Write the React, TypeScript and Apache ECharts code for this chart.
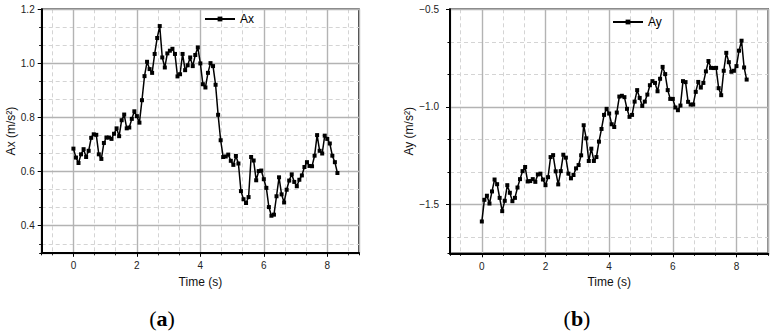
import React, { useEffect, useRef } from "react";
import * as echarts from "echarts";

const time = [
  0, 0.08, 0.16, 0.24, 0.32, 0.4, 0.48, 0.56, 0.64, 0.72,
  0.8, 0.88, 0.96, 1.04, 1.12, 1.2, 1.28, 1.36, 1.44, 1.52,
  1.6, 1.68, 1.76, 1.84, 1.92, 2, 2.08, 2.16, 2.24, 2.32,
  2.4, 2.48, 2.56, 2.64, 2.72, 2.8, 2.88, 2.96, 3.04, 3.12,
  3.2, 3.28, 3.36, 3.44, 3.52, 3.6, 3.68, 3.76, 3.84, 3.92,
  4, 4.08, 4.16, 4.24, 4.32, 4.4, 4.48, 4.56, 4.64, 4.72,
  4.8, 4.88, 4.96, 5.04, 5.12, 5.2, 5.28, 5.36, 5.44, 5.52,
  5.6, 5.68, 5.76, 5.84, 5.92, 6, 6.08, 6.16, 6.24, 6.32,
  6.4, 6.48, 6.56, 6.64, 6.72, 6.8, 6.88, 6.96, 7.04, 7.12,
  7.2, 7.28, 7.36, 7.44, 7.52, 7.6, 7.68, 7.76, 7.84, 7.92,
  8, 8.08, 8.16, 8.24, 8.32,
];

const ax = [
  0.685, 0.652, 0.632, 0.664, 0.683, 0.654, 0.677, 0.725, 0.738, 0.736,
  0.664, 0.647, 0.706, 0.726, 0.726, 0.721, 0.74, 0.76, 0.731, 0.79,
  0.811, 0.76, 0.763, 0.795, 0.823, 0.805, 0.781, 0.864, 0.953, 1.006,
  0.979, 0.965, 1.035, 1.094, 1.138, 1.022, 0.985, 1.037, 1.047, 1.054,
  1.035, 0.952, 0.96, 1.035, 0.975, 0.993, 1.022, 0.99, 1.031, 1.059,
  1.0, 0.923, 0.911, 0.965, 1.001, 0.99, 0.921, 0.81, 0.716, 0.654,
  0.656, 0.663, 0.64, 0.625, 0.658, 0.63, 0.528, 0.498, 0.484, 0.506,
  0.654, 0.641, 0.568, 0.602, 0.604, 0.572, 0.54, 0.469, 0.437, 0.441,
  0.509, 0.579, 0.516, 0.486, 0.533, 0.567, 0.59, 0.562, 0.546, 0.57,
  0.586, 0.617, 0.635, 0.621, 0.62, 0.659, 0.735, 0.677, 0.667, 0.733,
  0.721, 0.704, 0.659, 0.635, 0.595,
];

const ay = [
  -1.587, -1.476, -1.455, -1.495, -1.433, -1.372, -1.396, -1.466, -1.534, -1.481,
  -1.401, -1.44, -1.483, -1.466, -1.413, -1.37, -1.329, -1.308, -1.382, -1.38,
  -1.37, -1.384, -1.346, -1.342, -1.372, -1.401, -1.36, -1.257, -1.247, -1.33,
  -1.397, -1.329, -1.245, -1.26, -1.342, -1.366, -1.349, -1.315, -1.298, -1.248,
  -1.094, -1.161, -1.277, -1.214, -1.277, -1.257, -1.178, -1.113, -1.041, -1.01,
  -1.034, -1.089, -1.103, -1.029, -0.947, -0.943, -0.95, -1.01, -1.051, -1.041,
  -0.973, -0.914, -0.954, -0.995, -0.973, -0.937, -0.889, -0.868, -0.877, -0.92,
  -0.856, -0.795, -0.832, -0.914, -0.959, -0.959, -1.003, -1.017, -0.993, -0.868,
  -0.873, -0.974, -0.988, -0.988, -0.923, -0.872, -0.901, -0.877, -0.818, -0.765,
  -0.8, -0.801, -0.8, -0.904, -0.94, -0.815, -0.723, -0.771, -0.82, -0.815,
  -0.791, -0.712, -0.661, -0.798, -0.86,
];

const xTicks = [0, 2, 4, 6, 8];
const axTicks = [0.4, 0.6, 0.8, 1.0, 1.2];
const ayTicks = [-1.5, -1.0, -0.5];

const FONT = "Liberation Sans";
const MAJOR = { color: "#b3b3b3", width: 1.4, type: "solid" as const };
const MINOR = { color: "#d4d4d4", width: 1, type: [4, 3] as any };

function primaryX(gridIndex: number, nameGap: number) {
  return {
    type: "value",
    gridIndex,
    position: "bottom",
    min: -1,
    max: 9,
    splitNumber: 5,
    z: 3,
    name: "Time (s)",
    nameLocation: "middle",
    nameGap,
    nameTextStyle: { fontFamily: FONT, fontSize: 12, color: "#111" },
    axisLine: { show: true, onZero: false, lineStyle: { color: "#000", width: 2 } },
    axisTick: { show: true, inside: false, length: 4, lineStyle: { color: "#000", width: 1 } },
    axisLabel: {
      show: true,
      margin: 8,
      fontFamily: FONT,
      fontSize: 10,
      color: "#222",
      showMinLabel: false,
      showMaxLabel: false,
      formatter: (v: number) => (xTicks.includes(v) ? String(v) : ""),
    },
    splitLine: { show: true, lineStyle: MAJOR },
  };
}

function minorAxis(gridIndex: number, pos: string, min: number, max: number, splitNumber: number) {
  return {
    type: "value",
    gridIndex,
    position: pos,
    min,
    max,
    splitNumber,
    z: 1,
    axisLine: { show: false, onZero: false },
    axisTick: { show: true, inside: false, length: 2.5, lineStyle: { color: "#000", width: 1 } },
    axisLabel: { show: false },
    splitLine: { show: true, lineStyle: MINOR },
  };
}

export default function App() {
  const ref = useRef<HTMLDivElement>(null);
  useEffect(() => {
    if (!ref.current) return;
    const chart = echarts.init(ref.current, undefined, { renderer: "svg" });
    const titleRich = {
      p: { fontFamily: "Liberation Serif", fontSize: 22, color: "#000" },
      b: { fontFamily: "Liberation Serif", fontSize: 22, fontWeight: "bold", color: "#000" },
    };
    chart.setOption({
      animation: false,
      backgroundColor: "#fff",
      grid: [
        { left: 41.7, top: 9.3, width: 317.3, height: 243.5, show: true, borderColor: "#000", borderWidth: 1.5, backgroundColor: "transparent" },
        { left: 450, top: 9.3, width: 318.3, height: 244, show: true, borderColor: "#000", borderWidth: 1.5, backgroundColor: "transparent" },
      ],
      legend: [
        {
          data: ["Ax"],
          left: 199,
          top: 8,
          itemWidth: 30,
          itemHeight: 6,
          textStyle: { fontFamily: FONT, fontSize: 12, color: "#000" },
        },
        {
          data: ["Ay"],
          left: 607,
          top: 11,
          itemWidth: 30,
          itemHeight: 6,
          textStyle: { fontFamily: FONT, fontSize: 12, color: "#000" },
        },
      ],
      xAxis: [
        primaryX(0, 22),
        minorAxis(0, "bottom", -3, 27, 15),
        primaryX(1, 22),
        minorAxis(1, "bottom", -3, 27, 15),
      ],
      yAxis: [
        {
          type: "value",
          gridIndex: 0,
          position: "left",
          min: 0.3,
          max: 1.2,
          splitNumber: 5,
          z: 3,
          name: "Ax (m/s²)",
          nameLocation: "middle",
          nameGap: 23,
          nameTextStyle: { fontFamily: FONT, fontSize: 12, color: "#111" },
          axisLine: { show: true, onZero: false, lineStyle: { color: "#000", width: 2 } },
          axisTick: { show: true, inside: false, length: 4, lineStyle: { color: "#000", width: 1 } },
          axisLabel: {
            margin: 7,
            fontFamily: FONT,
            fontSize: 10,
            color: "#222",
            showMinLabel: false,
            formatter: (v: number) => {
              const m = axTicks.find((t) => Math.abs(t - v) < 1e-6);
              return m !== undefined ? m.toFixed(1) : "";
            },
          },
          splitLine: { show: true, lineStyle: MAJOR },
        },
        minorAxis(0, "left", 4.5, 18, 12),
        {
          type: "value",
          gridIndex: 1,
          position: "left",
          min: -1.75,
          max: -0.5,
          splitNumber: 3,
          z: 3,
          name: "Ay (m/s²)",
          nameLocation: "middle",
          nameGap: 31,
          nameTextStyle: { fontFamily: FONT, fontSize: 12, color: "#111" },
          axisLine: { show: true, onZero: false, lineStyle: { color: "#000", width: 2 } },
          axisTick: { show: true, inside: false, length: 4, lineStyle: { color: "#000", width: 1 } },
          axisLabel: {
            margin: 11,
            fontFamily: FONT,
            fontSize: 10,
            color: "#222",
            showMinLabel: false,
            formatter: (v: number) => {
              const m = ayTicks.find((t) => Math.abs(t - v) < 1e-6);
              return m !== undefined ? "\u2212" + Math.abs(m).toFixed(1) : "";
            },
          },
          splitLine: { show: true, lineStyle: MAJOR },
        },
        minorAxis(1, "left", -10.5, -3, 7),
      ],
      series: [
        {
          name: "Ax",
          type: "line",
          xAxisIndex: 0,
          yAxisIndex: 0,
          data: time.map((t, i) => [t, ax[i]]),
          symbol: "rect",
          symbolSize: 4,
          showSymbol: true,
          lineStyle: { color: "#000", width: 1.5 },
          itemStyle: { color: "#000" },
          z: 5,
        },
        {
          name: "Ay",
          type: "line",
          xAxisIndex: 2,
          yAxisIndex: 2,
          data: time.map((t, i) => [t, ay[i]]),
          symbol: "rect",
          symbolSize: 4,
          showSymbol: true,
          lineStyle: { color: "#000", width: 1.5 },
          itemStyle: { color: "#000" },
          z: 5,
        },
      ],
      graphic: [
        {
          type: "text",
          x: 162,
          y: 318,
          style: { text: "{p|(}{b|a}{p|)}", rich: titleRich, align: "center", verticalAlign: "middle" },
        },
        {
          type: "text",
          x: 577,
          y: 318,
          style: { text: "{p|(}{b|b}{p|)}", rich: titleRich, align: "center", verticalAlign: "middle" },
        },
      ],
    });
    return () => chart.dispose();
  }, []);
  return (
    <div
      ref={ref}
      style={{ position: "fixed", left: 0, top: 0, width: 775, height: 334, background: "#fff" }}
    />
  );
}
